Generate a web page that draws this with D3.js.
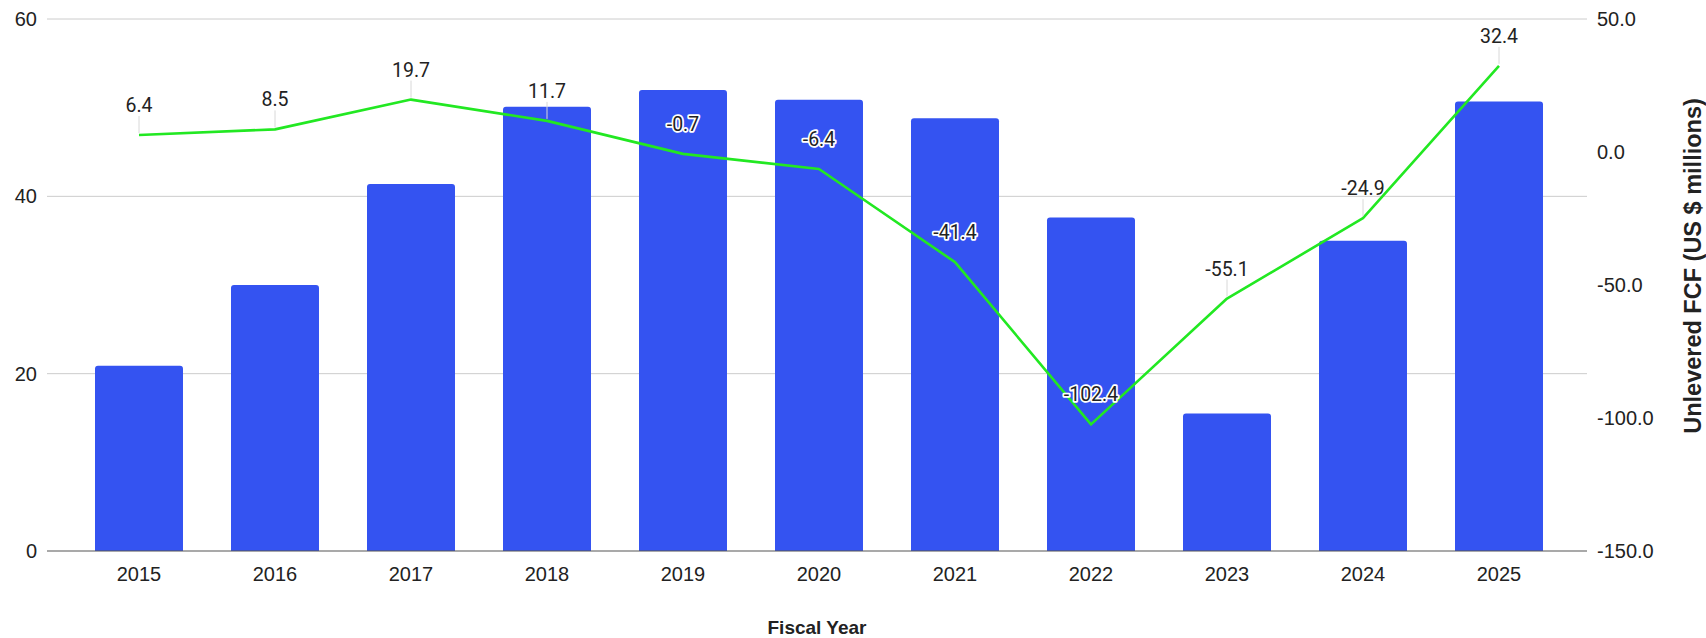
<!DOCTYPE html>
<html><head><meta charset="utf-8">
<script src="https://cdn.jsdelivr.net/npm/d3@7"></script>
<style>html,body{margin:0;padding:0;background:#fff;}svg{display:block;}</style>
</head><body>
<svg id="chart" width="1706" height="638"></svg>
<script>
const years = ["2015","2016","2017","2018","2019","2020","2021","2022","2023","2024","2025"];
const barValues = [20.9, 30.0, 41.4, 50.1, 52.0, 50.9, 48.8, 37.6, 15.5, 35.0, 50.7];
const fcfValues = [6.4, 8.5, 19.7, 11.7, -0.7, -6.4, -41.4, -102.4, -55.1, -24.9, 32.4];
const leftTicks = [0, 20, 40, 60];
const rightTicks = [-150, -100, -50, 0, 50];

(function () {
const svg = d3.select("#chart");
const pLeft = 47, pRight = 1587, pTop = 19, pBottom = 551;
const fmt1 = d => d3.format(".1f")(d).replace("\u2212", "-");
const sans = "Liberation Sans, Arial, sans-serif";

const x = d3.scaleBand().domain(years).range([71, 1567]).paddingInner(0.353).paddingOuter(0.1765);
const yL = d3.scaleLinear().domain([0, 60]).range([pBottom, pTop]);
const yR = d3.scaleLinear().domain([-150, 50]).range([pBottom, pTop]);

// gridlines
svg.append("g").selectAll("line").data(leftTicks.filter(d => d !== 0)).join("line")
  .attr("x1", pLeft).attr("x2", pRight)
  .attr("y1", d => yL(d)).attr("y2", d => yL(d))
  .attr("stroke", "#cccccc").attr("stroke-width", 1);

// bars with rounded top corners
const r = 3;
svg.append("g").selectAll("path").data(years).join("path")
  .attr("fill", "#3453f1")
  .attr("d", (d, i) => {
    const x0 = x(d), w = x.bandwidth(), y0 = yL(barValues[i]), yb = yL(0);
    return `M${x0},${yb}V${y0 + r}Q${x0},${y0} ${x0 + r},${y0}H${x0 + w - r}Q${x0 + w},${y0} ${x0 + w},${y0 + r}V${yb}Z`;
  });

// baseline
svg.append("line").attr("x1", pLeft).attr("x2", pRight).attr("y1", yL(0)).attr("y2", yL(0))
  .attr("stroke", "#555").attr("stroke-width", 1.2);

// left axis labels
const axL = svg.append("g").attr("transform", `translate(${pLeft - 10},0)`)
  .call(d3.axisLeft(yL).tickValues(leftTicks).tickSize(0).tickPadding(0).tickFormat(d3.format("d")));
axL.select(".domain").remove();
axL.selectAll("text").attr("font-family", sans).attr("font-size", 20).attr("fill", "#222");

// right axis labels
const axR = svg.append("g").attr("transform", `translate(${pRight + 10},0)`)
  .call(d3.axisRight(yR).tickValues(rightTicks).tickSize(0).tickPadding(0).tickFormat(fmt1));
axR.select(".domain").remove();
axR.selectAll("text").attr("font-family", sans).attr("font-size", 20).attr("fill", "#222");

// x axis labels
const axX = svg.append("g").attr("transform", `translate(0,${pBottom})`)
  .call(d3.axisBottom(x).tickSize(0).tickPadding(0));
axX.select(".domain").remove();
axX.selectAll("text").attr("y", 30).attr("dy", null)
  .attr("font-family", sans).attr("font-size", 20).attr("fill", "#222");

// axis titles
svg.append("text").attr("x", (pLeft + pRight) / 2).attr("y", 634)
  .attr("text-anchor", "middle").attr("font-family", sans)
  .attr("font-weight", "bold").attr("font-size", 19).attr("fill", "#222").text("Fiscal Year");
svg.append("text").attr("transform", `translate(1701,266) rotate(-90)`)
  .attr("text-anchor", "middle").attr("font-family", sans)
  .attr("font-weight", "bold").attr("font-size", 23.5).attr("fill", "#222").text("Unlevered FCF (US $ millions)");

// line
const cx = d => x(d) + x.bandwidth() / 2;
const pts = years.map((d, i) => [cx(d), yR(fcfValues[i])]);
svg.append("path").datum(pts).attr("d", d3.line())
  .attr("fill", "none").attr("stroke", "#22e822").attr("stroke-width", 2.6).attr("stroke-linejoin", "round");

// data labels
const lab = svg.append("g");
years.forEach((d, i) => {
  const px = cx(d), py = yR(fcfValues[i]);
  const ly = py - 23;
  const inBar = (ly - 8) > yL(barValues[i]);
  if (!inBar) {
    lab.append("line").attr("x1", px).attr("x2", px).attr("y1", py - 19).attr("y2", py - 2)
      .attr("stroke", "#d8d8d8").attr("stroke-width", 1);
  }
  const t = lab.append("text").attr("x", px).attr("y", ly).attr("text-anchor", "middle")
    .attr("font-family", "Roboto, sans-serif").attr("font-size", 19.5).attr("fill", "#222").text(fmt1(fcfValues[i]));
  if (inBar) {
    t.attr("stroke", "#fff").attr("stroke-width", 3.5).attr("paint-order", "stroke").attr("stroke-linejoin", "round");
  }
});
})();
</script>
</body></html>
